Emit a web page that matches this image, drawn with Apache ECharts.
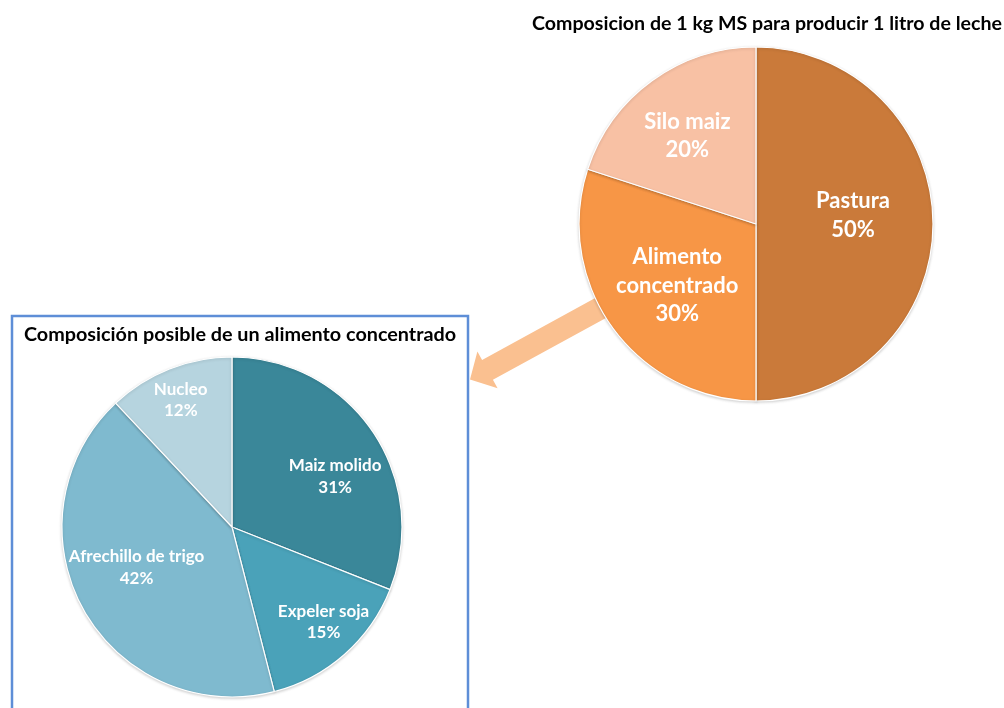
<!DOCTYPE html>
<html>
<head>
<meta charset="utf-8">
<title>Composición de la materia seca</title>
<script src="https://cdn.jsdelivr.net/npm/echarts@6/dist/echarts.min.js"></script>
<style>
  html, body { margin: 0; padding: 0; background: #ffffff; }
  #chart { width: 1004px; height: 708px; }
</style>
</head>
<body>
<div id="chart"></div>
<script>
// Ration: 1 kg of dry matter (MS) per litre of milk
const racionTitulo = 'Composicion de 1 kg MS para producir 1 litro de leche';
const racionNombres = ['Pastura', 'Alimento\nconcentrado', 'Silo maiz'];
const racionValores = [50, 30, 20];

// Possible make-up of the concentrate feed
const concTitulo = 'Composición posible de un alimento concentrado';
const concNombres = ['Maiz molido', 'Expeler soja', 'Afrechillo de trigo', 'Nucleo'];
const concValores = [31, 15, 42, 12];

const FONT = 'Lato, "Open Sans", sans-serif';

// Pie geometry (pixels); label spots as [fraction of radius, degrees clockwise from top]
const pieA = {
  c: [756, 224], r: 177,
  colors: ['#CA7A3A', '#F79646', '#F8C1A4'],
  labelAt: [[0.55, 85], [0.565, 232], [0.63, 322]]
};
const pieB = {
  c: [232, 527], r: 170,
  colors: ['#3A8799', '#4AA2B9', '#7FBACF', '#B6D4DF'],
  labelAt: [[0.675, 64], [0.775, 136], [0.61, 247], [0.805, 338]]
};

// Move each inside label to its spot inside the slice
function placeLabel(pie) {
  return function (p) {
    const cx = p.labelRect.x + p.labelRect.width / 2;
    const cy = p.labelRect.y + p.labelRect.height / 2;
    const [f, deg] = pie.labelAt[p.dataIndex];
    const a = deg * Math.PI / 180;
    const tx = pie.c[0] + f * pie.r * Math.sin(a);
    const ty = pie.c[1] - f * pie.r * Math.cos(a);
    return { dx: tx - cx, dy: ty - cy };
  };
}

function pieSeries(pie, nombres, valores, fontSize, lineHeight) {
  return {
    type: 'pie',
    center: pie.c,
    radius: [0, pie.r],
    startAngle: 90,
    clockwise: true,
    animation: false,
    silent: true,
    data: nombres.map((n, i) => ({ name: n, value: valores[i], itemStyle: { color: pie.colors[i] } })),
    itemStyle: {
      borderColor: '#ffffff', borderWidth: 1.2,
      shadowColor: 'rgba(0,0,0,0.18)', shadowBlur: 3, shadowOffsetY: 1
    },
    label: {
      show: true,
      position: 'inside',
      formatter: '{b}\n{d}%',
      color: '#ffffff',
      fontFamily: FONT,
      fontWeight: 'bold',
      fontSize: fontSize,
      lineHeight: lineHeight,
      align: 'center'
    },
    labelLine: { show: false },
    labelLayout: placeLabel(pie)
  };
}

const chart = echarts.init(document.getElementById('chart'), null, { renderer: 'canvas' });

chart.setOption({
  backgroundColor: '#ffffff',
  title: [
    {
      text: racionTitulo,
      left: 762, top: 9, textAlign: 'center',
      textStyle: { fontFamily: FONT, fontWeight: 'bold', fontSize: 19.6, color: '#000000' }
    },
    {
      text: concTitulo,
      left: 235, top: 320, textAlign: 'center',
      textStyle: { fontFamily: FONT, fontWeight: 'bold', fontSize: 19.8, color: '#000000' }
    }
  ],
  graphic: [
    {
      // frame around the concentrate chart
      type: 'rect',
      z: 0,
      shape: { x: 12, y: 316, width: 456, height: 420 },
      style: { fill: 'none', stroke: '#5E8ED7', lineWidth: 2.5 }
    },
    {
      // arrow leading from the concentrate slice to its breakdown
      type: 'polygon',
      z: 0,
      shape: {
        points: [
          [470, 379.5], [477.4, 351.5], [482.1, 360], [622.6, 283.1],
          [633.4, 302.9], [492.9, 379.8], [497.6, 388.3]
        ]
      },
      style: { fill: '#FAC090' }
    }
  ],
  series: [
    pieSeries(pieA, racionNombres, racionValores, 22, 28.5),
    pieSeries(pieB, concNombres, concValores, 17, 21.5)
  ]
});
</script>
</body>
</html>
